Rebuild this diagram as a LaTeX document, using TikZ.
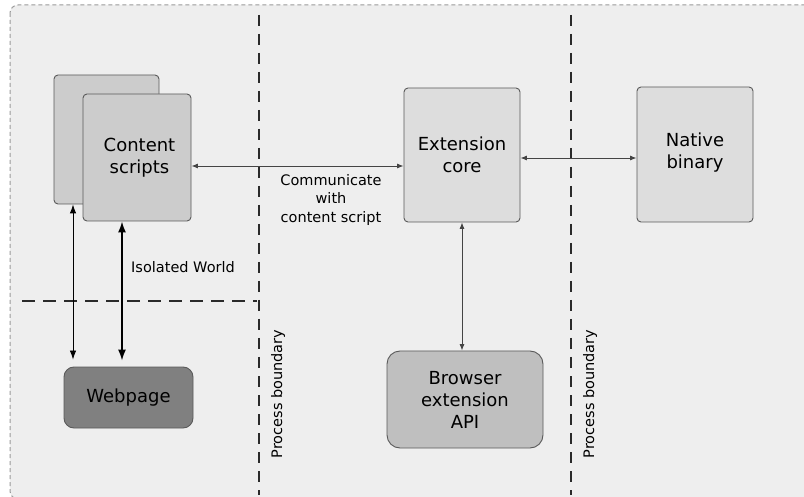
\documentclass[tikz,border=0pt]{standalone}
\usepackage{fontspec}
\setmainfont{DejaVu Sans}
\usetikzlibrary{arrows.meta}
\definecolor{bg}{HTML}{EEEEEE}
\definecolor{frame}{HTML}{9A9A9A}
\definecolor{boxline}{HTML}{5A5A5A}
\definecolor{fillA}{HTML}{CCCCCC}
\definecolor{fillB}{HTML}{DDDDDD}
\definecolor{fillC}{HTML}{BFBFBF}
\definecolor{fillD}{HTML}{808080}
\definecolor{divider}{HTML}{2A2A2A}
\definecolor{wire}{HTML}{444444}
\begin{document}
\begin{tikzpicture}[x=1pt,y=-1pt,
  box/.style={draw=boxline, line width=0.9pt, rounded corners=4pt, align=center,
    font=\fontsize{18}{22}\selectfont, inner sep=0pt},
  label/.style={align=center, font=\fontsize{14.5}{18.5}\selectfont, inner sep=0pt},
  boundary/.style={draw=divider, line width=1.2pt, dash pattern=on 11pt off 8pt},
  thinarrow/.style={draw=wire, line width=0.8pt, {Latex[length=6.5pt,width=5pt]}-{Latex[length=6.5pt,width=5pt]}},
  midarrow/.style={draw=black, line width=0.9pt, {Latex[length=9pt,width=6.5pt]}-{Latex[length=9pt,width=6.5pt]}},
  heavyarrow/.style={draw=black, line width=1.6pt, {Latex[length=11pt,width=8pt]}-{Latex[length=11pt,width=8pt]}}]
\useasboundingbox (0,0) rectangle (804,497);
\fill[white] (0,0) rectangle (804,497);
% outer frame, cut off at the right and bottom
\begin{scope}
  \clip (0,0) rectangle (804,497);
  \draw[fill=bg, draw=frame, line width=1pt, dash pattern=on 4pt off 3pt, rounded corners=8pt]
    (10,5) rectangle (840,499);
\end{scope}

% process boundaries and the isolated-world divider
\draw[boundary] (259,15) -- (259,495);
\draw[boundary] (571,15) -- (571,495);
\draw[boundary, dash pattern=on 13pt off 8pt] (22,301) -- (257,301);

% boxes
\node[box, fill=fillA, minimum width=105pt, minimum height=129pt] (back) at (106.5,139.5) {};
\node[box, fill=fillA, minimum width=108pt, minimum height=127pt] (content) at (137,157.5) {\hspace*{5pt}Content\\\hspace*{5pt}scripts};
\node[box, fill=fillB, minimum width=116pt, minimum height=134pt] (core) at (462,155) {Extension\\core};
\node[box, fill=fillB, minimum width=116pt, minimum height=135pt] (native) at (695,154.5) {Native\\binary\\[-14pt]};
\node[box, fill=fillC, rounded corners=13pt, minimum width=156pt, minimum height=97pt] (api) at (465,399.5) {Browser\\extension\\API};
\node[box, fill=fillD, rounded corners=10pt, minimum width=129pt, minimum height=61pt] (web) at (128.5,397.5) {Webpage};

% labels
\node[label] (comm) at (331,200) {Communicate\\with\\content script};
\node[label] (iso) at (183,267) {Isolated World};
\node[label, rotate=90] (pb1) at (278,394) {Process boundary};
\node[label, rotate=90] (pb2) at (590,394) {Process boundary};

% connectors
\coordinate (row1) at (300,166);
\coordinate (row2) at (580,158);
\coordinate (col1) at (73,300);
\coordinate (col2) at (122,300);
\draw[thinarrow] (content.east |- row1) -- (core.west |- row1);
\draw[thinarrow] (core.east |- row2) -- (native.west |- row2);
\draw[thinarrow] (core.south) -- (core.south |- api.north);
\draw[midarrow, shorten >=7pt] (back.south -| col1) -- (web.north -| col1);
\draw[heavyarrow, shorten >=6pt] (content.south -| col2) -- (web.north -| col2);
\end{tikzpicture}
\end{document}
